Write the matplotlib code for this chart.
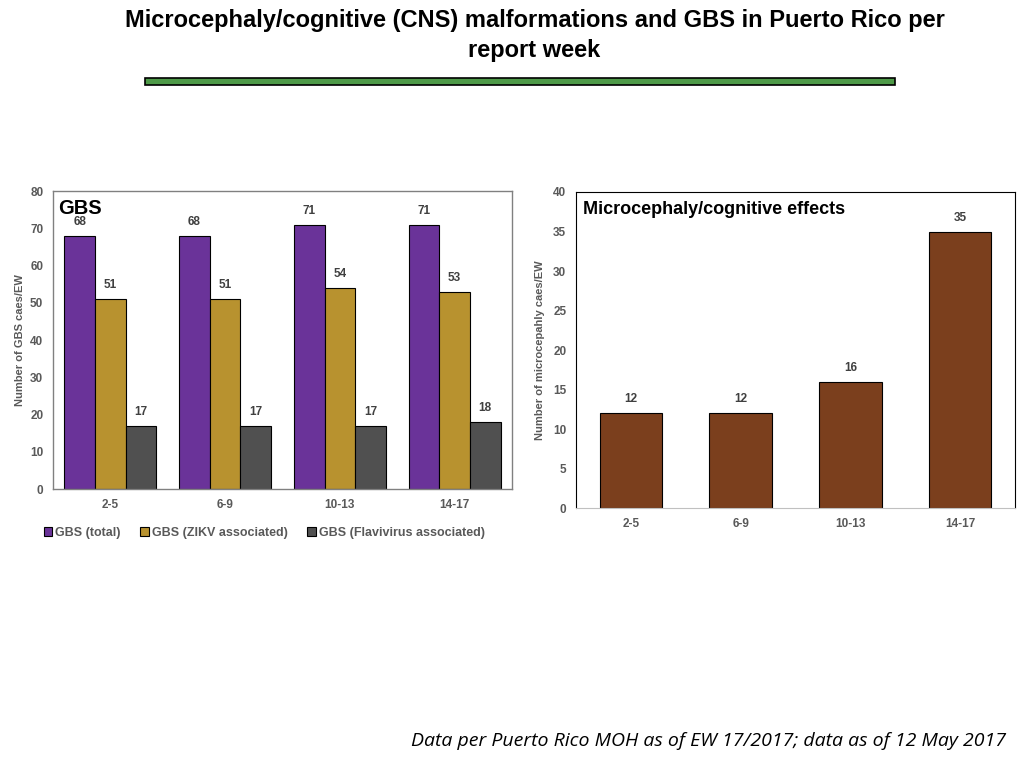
import matplotlib
matplotlib.use("Agg")
import matplotlib.pyplot as plt
import numpy as np
from matplotlib.patches import Rectangle

plt.rcParams['font.family'] = ['Liberation Sans', 'DejaVu Sans']

# data
weeks = ["2-5", "6-9", "10-13", "14-17"]
gbs_total = [68, 68, 71, 71]
gbs_zikv = [51, 51, 54, 53]
gbs_flavi = [17, 17, 17, 18]
micro = [12, 12, 16, 35]

gbs_series = [
    ("GBS (total)", gbs_total, "#6a3399"),
    ("GBS (ZIKV associated)", gbs_zikv, "#b8922f"),
    ("GBS (Flavivirus associated)", gbs_flavi, "#505050"),
]
grey = "#595959"

fig = plt.figure(figsize=(10.24, 7.68), dpi=100)

# title and green bar
fig.text(0.522, 0.988, "Microcephaly/cognitive (CNS) malformations and GBS in Puerto Rico per\nreport week",
         ha="center", va="top", fontsize=17, fontweight="bold", linespacing=1.4)
fig.patches.append(Rectangle((145 / 1024, 1 - 85 / 768), 750 / 1024, 7 / 768,
                             transform=fig.transFigure, facecolor="#4e9a48",
                             edgecolor="black", linewidth=1.2))

# GBS chart
ax1 = fig.add_axes([0.0518, 0.363, 0.4482, 0.388])
x = np.arange(len(weeks))
w = 0.267
for i, (name, vals, col) in enumerate(gbs_series):
    pos = x + (i - 1) * w
    bars = ax1.bar(pos, vals, w, color=col, edgecolor="black", linewidth=0.8, label=name)
    for p, v in zip(pos, vals):
        ax1.text(p, v + 2.2, str(v), ha="center", va="bottom", fontsize=8.5,
                 fontweight="bold", color="#404040")
ax1.set_xlim(-0.5, 3.5)
ax1.set_ylim(0, 80)
ax1.set_yticks(range(0, 81, 10))
ax1.set_xticks(x)
ax1.set_xticklabels(weeks)
ax1.set_ylabel("Number of GBS caes/EW", fontsize=8, fontweight="bold", color=grey, labelpad=4)
ax1.text(0.01, 0.975, "GBS", transform=ax1.transAxes, ha="left", va="top",
         fontsize=14.5, fontweight="bold", color="black")
for s in ax1.spines.values():
    s.set_color("#808080")
    s.set_linewidth(1.0)
ax1.tick_params(length=0, labelsize=8.5, labelcolor=grey, pad=7)
for lab in ax1.get_xticklabels() + ax1.get_yticklabels():
    lab.set_fontweight("bold")
leg = ax1.legend(loc="upper center", bbox_to_anchor=(0.46, -0.11), ncol=3, frameon=False,
                 fontsize=9, handlelength=0.7, handleheight=0.7, handletextpad=0.2,
                 columnspacing=1.6, borderaxespad=0)
for t in leg.get_texts():
    t.set_color(grey)
    t.set_fontweight("bold")

# Microcephaly chart
ax2 = fig.add_axes([0.5625, 0.3385, 0.4287, 0.4115])
ax2.bar(x, micro, 0.57, color="#7b3f1d", edgecolor="black", linewidth=0.8)
for p, v in zip(x, micro):
    ax2.text(p, v + 1.0, str(v), ha="center", va="bottom", fontsize=8.5,
             fontweight="bold", color="#404040")
ax2.set_xlim(-0.5, 3.5)
ax2.set_ylim(0, 40)
ax2.set_yticks(range(0, 41, 5))
ax2.set_xticks(x)
ax2.set_xticklabels(weeks)
ax2.set_ylabel("Number of microcepahly caes/EW", fontsize=8, fontweight="bold", color=grey, labelpad=6)
ax2.text(0.016, 0.97, "Microcephaly/cognitive effects", transform=ax2.transAxes, ha="left",
         va="top", fontsize=13, fontweight="bold", color="black")
for s in ax2.spines.values():
    s.set_color("black")
    s.set_linewidth(0.8)
ax2.spines["bottom"].set_color("#c0c0c0")
ax2.tick_params(length=0, labelsize=8.5, labelcolor=grey, pad=7)
for lab in ax2.get_xticklabels() + ax2.get_yticklabels():
    lab.set_fontweight("bold")

# footnote
fig.text(0.982, 0.024, "Data per Puerto Rico MOH as of EW 17/2017; data as of 12 May 2017",
         ha="right", va="bottom", fontsize=14, style="italic", family=["Open Sans", "DejaVu Sans"])

fig.savefig("out.png", dpi=100)
